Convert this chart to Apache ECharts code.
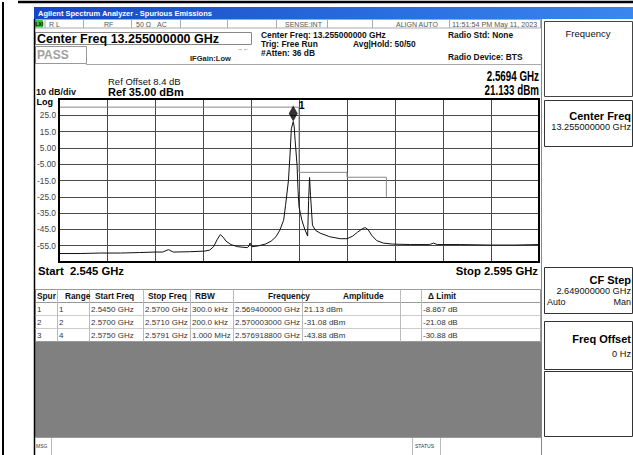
<!DOCTYPE html>
<html><head><meta charset="utf-8">
<script src="https://cdn.jsdelivr.net/npm/echarts@6/dist/echarts.min.js"></script>
<style>html,body{margin:0;padding:0;background:#fff}#c{width:633px;height:455px}</style>
</head><body><div id="c"></div><script>
// ---- data (frequency in MHz, amplitude in dBm) ----
const freqMHz = [2545,2547.2,2549.3,2551.4,2553.4,2555.0,2555.8,2556.4,2556.9,2558.6,2560.2,2560.7,2561.1,2561.5,2561.8,2562.1,2562.4,2562.9,2563.6,2564.6,2564.8,2564.9,2565.1,2565.7,2566.5,2567.1,2567.6,2568.0,2568.4,2568.6,2568.9,2569.1,2569.2,2569.4,2569.5,2569.6,2569.8,2569.9,2570.0,2570.3,2570.6,2570.9,2571.0,2571.1,2571.2,2571.4,2571.7,2572.2,2573.2,2574.3,2575.0,2575.6,2576.1,2576.6,2576.9,2577.2,2577.6,2578.1,2578.8,2579.7,2581.6,2583.6,2584.0,2584.4,2586.8,2589.9,2592.5,2595];
const traceDbm = [-59.8,-59.8,-59.5,-59.5,-59.2,-58.9,-58.9,-57.4,-58.9,-58.7,-58.3,-57.7,-55.6,-51.0,-48.2,-49.8,-52.2,-54.3,-55.6,-56.2,-55.2,-53.4,-55.6,-55.2,-54.0,-52.2,-49.5,-45.5,-39.4,-30.2,-15.0,4.5,16.7,21.13,17.9,9.4,-5.9,-21.1,-31.1,-39.4,-44.9,-49.1,-27.2,-13.2,-24.1,-42.4,-45.5,-47.3,-49.5,-50.7,-50.7,-49.1,-46.7,-44.6,-43.88,-45.2,-48.8,-51.9,-53.4,-54.0,-54.3,-54.3,-53.4,-54.3,-54.3,-54.6,-54.6,-54.3];
const limitFreqMHz = [2545,2570,2570,2575,2575,2579.1,2579.1];
const limitDbm = [30,30,-10,-10,-13,-13,-25];
const markerFreqMHz = 2569.4;
const markerDbm = 21.133;
const tableHeaders = ['Spur','Range','Start Freq','Stop Freq','RBW','Frequency','Amplitude','','\u0394 Limit'];
const tableRow1 = ['1','1','2.5450 GHz','2.5700 GHz','300.0 kHz','2.569400000 GHz','21.13 dBm','','-8.867 dB'];
const tableRow2 = ['2','2','2.5700 GHz','2.5710 GHz','200.0 kHz','2.570003000 GHz','-31.08 dBm','','-21.08 dB'];
const tableRow3 = ['3','4','2.5750 GHz','2.5791 GHz','1.000 MHz','2.576918800 GHz','-43.88 dBm','','-30.88 dB'];
const tableRows = [tableRow1, tableRow2, tableRow3];

// ---- layout helpers ----
const FF = '"Liberation Sans", Arial, sans-serif';
const G = [];
function T(x, y, text, size, opt) {
  opt = opt || {};
  const el = {type:'text', x:x, y:y, z: opt.z || 10, style:{text:text, font:(opt.bold?'bold ':'')+size+'px '+FF,
    fill: opt.fill || '#000', align: opt.align || 'left', verticalAlign: 'middle', textDecoration: opt.underline ? 'underline' : 'none'}};
  if (opt.sx) el.scaleX = opt.sx;
  G.push(el);
}
function R(x, y, w, h, fill, stroke, lw, z) {
  G.push({type:'rect', z: z || 1, shape:{x:x, y:y, width:w, height:h}, style:{fill: fill || 'none', stroke: stroke || null, lineWidth: lw || 1}});
}
function L(x1, y1, x2, y2, stroke, lw, z) {
  G.push({type:'line', z: z || 5, shape:{x1:x1, y1:y1, x2:x2, y2:y2}, style:{stroke: stroke, lineWidth: lw || 1}});
}

// outer frame
L(3, 2, 3, 455, '#000', 2);
L(18, 2, 633, 2, '#000', 2.5);
// title bar
G.push({type:'rect', z:1, shape:{x:34, y:7, width:599, height:12},
  style:{fill: new echarts.graphic.LinearGradient(0,0,1,0,[{offset:0,color:'#1746c4'},{offset:0.6,color:'#2a6ee0'},{offset:1,color:'#3b86ee'}])}});
T(38, 13.5, 'Agilent Spectrum Analyzer - Spurious Emissions', 7.5, {bold:true, fill:'#fff'});
// status row
R(34.5, 19.5, 506, 8.5, '#fff', '#aaa', 1);
R(35, 20, 8, 7.5, '#3cc43c', null);
T(35.5, 24, 'LXI', 5, {bold:true, fill:'#000'});
[45, 83.5, 131.5, 180.5, 227.5, 276.5, 327.5, 372.5, 449.5].forEach(x => L(x, 19.5, x, 28, '#aaa', 1));
T(49, 24, 'R L', 7, {fill:'#555'});
T(104, 24, 'RF', 7, {fill:'#555'});
T(136, 24, '50 \u03A9', 7, {fill:'#555'});
T(157, 24, 'AC', 7, {fill:'#555'});
T(285, 24, 'SENSE:INT', 7, {fill:'#555'});
T(396, 24, 'ALIGN AUTO', 7, {fill:'#555'});
T(452, 24, '11:51:54 PM May 11, 2023', 7.2, {fill:'#555'});
// left border of screen
L(34.5, 19, 34.5, 455, '#000', 1.5);
// right soft-key panel separator
L(541.5, 19, 541.5, 455, '#888', 1);
// header boxes
R(35.5, 32.5, 216, 12, '#fff', '#888', 1);
T(37, 38.5, 'Center Freq 13.255000000 GHz', 12.5, {bold:true});
R(35.5, 46.5, 51, 17, '#fff', '#999', 1);
T(37, 55, 'PASS', 12, {bold:true, fill:'#a0a0a0'});
L(86, 64.5, 541, 64.5, '#aaa', 1);
T(237, 48.5, '\u2192\u2190', 6, {fill:'#333'});
T(190, 58.5, 'IFGain:Low', 7.5, {bold:true, fill:'#222'});
T(261, 35, 'Center Freq: 13.255000000 GHz', 8.4, {bold:true, fill:'#111'});
T(261, 43.5, 'Trig: Free Run', 8.4, {bold:true, fill:'#111'});
T(353, 43.5, 'Avg|Hold: 50/50', 8.4, {bold:true, fill:'#111'});
T(261, 52.5, '#Atten: 36 dB', 8.4, {bold:true, fill:'#111'});
T(448, 35, 'Radio Std: None', 8.4, {bold:true, fill:'#111'});
T(448, 57, 'Radio Device: BTS', 8.4, {bold:true, fill:'#111'});
T(539, 76, '2.5694 GHz', 14, {bold:true, align:'right', sx:0.7});
T(539, 90, '21.133 dBm', 14, {bold:true, align:'right', sx:0.7});
T(108, 81.5, 'Ref Offset 8.4 dB', 9.5, {fill:'#111'});
T(108, 91.5, 'Ref 35.00 dBm', 11, {bold:true});
T(36, 91.5, '10 dB/div', 9, {bold:true, fill:'#111'});
T(36.5, 102, 'Log', 9, {bold:true});
T(38, 271, 'Start  2.545 GHz', 11.3, {bold:true});
T(538, 271, 'Stop 2.595 GHz', 11.3, {bold:true, align:'right'});
// plot border (on top of series)
R(59, 99, 480, 163, 'none', '#000', 2, 100);

// table
const colX = [35, 57, 89, 143, 190, 233, 302, 400, 421, 540];
const hdrX = [37, 65, 95, 148, 195, 268, 343, 402, 428];
R(35.5, 289.5, 505, 52, '#fff', '#999', 1);
L(35.5, 302.5, 540.5, 302.5, '#999', 1);
L(35.5, 315.5, 540.5, 315.5, '#ccc', 1);
L(35.5, 328.5, 540.5, 328.5, '#ccc', 1);
for (let i = 1; i < colX.length - 1; i++) L(colX[i] + 0.5, 289.5, colX[i] + 0.5, 341.5, '#bbb', 1);
tableHeaders.forEach((h, i) => T(hdrX[i], 296, h, 8.3, {bold:true, fill:'#111'}));
tableRows.forEach((row, r) => row.forEach((v, i) => T(colX[i] + 2, 309 + r * 13, v, 8, {fill:'#333'})));
R(35, 342, 506, 95, '#808080', null);
// message bar
L(35, 437.5, 541, 437.5, '#999', 1);
T(36, 446, 'MSG', 5, {fill:'#333'});
L(51.5, 438, 51.5, 455, '#bbb', 1);
L(412.5, 438, 412.5, 455, '#bbb', 1);
L(440.5, 438, 440.5, 455, '#bbb', 1);
T(415, 446, 'STATUS', 5, {fill:'#333'});
// soft keys
R(544.5, 21.5, 88, 75, '#fff', '#444', 1);
T(588, 33, 'Frequency', 9.5, {align:'center', fill:'#111'});
R(544.5, 100.5, 88, 46, '#fff', '#333', 1);
T(631, 116, 'Center Freq', 11, {bold:true, align:'right'});
T(631, 126.5, '13.255000000 GHz', 9.2, {align:'right', fill:'#111'});
R(544.5, 267.5, 88, 46, '#fff', '#333', 1);
T(631, 280, 'CF Step', 11, {bold:true, align:'right'});
T(631, 291, '2.649000000 GHz', 9.2, {align:'right', fill:'#111'});
T(547, 301.5, 'Auto', 9, {fill:'#111', underline:true});
T(631, 301.5, 'Man', 9, {align:'right', fill:'#111'});
R(544.5, 321.5, 88, 48, '#fff', '#333', 1);
T(631, 339, 'Freq Offset', 11, {bold:true, align:'right'});
T(631, 354, '0 Hz', 9.2, {align:'right', fill:'#111'});
R(544.5, 371.5, 88, 65, '#fff', '#333', 1);

const chart = echarts.init(document.getElementById('c'), null, {renderer:'svg'});
chart.setOption({
  animation: false,
  backgroundColor: '#fff',
  grid: {left:59, right:94, top:99, bottom:193, show:false},
  xAxis: {type:'value', min:2545, max:2595, interval:5, axisLine:{show:false}, axisTick:{show:false}, axisLabel:{show:false},
    splitLine:{show:true, lineStyle:{color:'#4a4a4a', width:1}}},
  yAxis: {type:'value', min:-65, max:35, interval:10, axisLine:{show:false}, axisTick:{show:false},
    axisLabel:{show:true, margin:3, fontSize:8.3, fontFamily:FF, color:'#444',
      formatter: v => (v <= -65 || v >= 35) ? '' : (Math.abs(v) < 10 ? v.toFixed(2) : v.toFixed(1))},
    splitLine:{show:true, lineStyle:{color:'#4a4a4a', width:1}}},
  series: [
    {type:'line', data: limitFreqMHz.map((f, i) => [f, limitDbm[i]]), symbol:'none', lineStyle:{color:'#888', width:1}, z:3},
    {type:'line', data: freqMHz.map((f, i) => [f, traceDbm[i]]), symbol:'none', lineStyle:{color:'#111', width:1}, z:4},
    {type:'scatter', data: [[markerFreqMHz, markerDbm]], symbol:'diamond', symbolSize:[9,16], symbolOffset:[0,-8],
      itemStyle:{color:'#000'}, z:6,
      label:{show:true, position:[10,-6], formatter:'1', fontSize:10.5, fontFamily:FF, color:'#000', fontWeight:'bold',
        textBorderWidth:0, textBorderColor:'transparent', opacity:1}}
  ],
  graphic: {elements: G}
});
</script></body></html>
